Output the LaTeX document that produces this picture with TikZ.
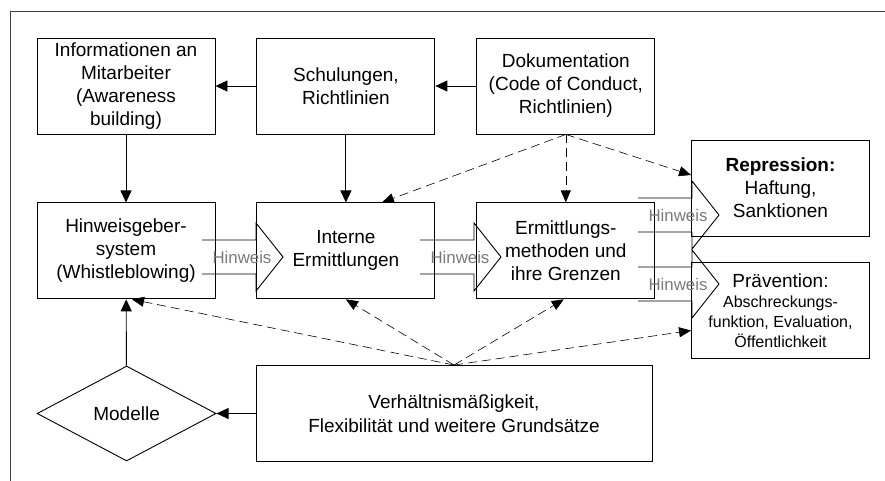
\documentclass[tikz,border=0pt]{standalone}
\usepackage{fontspec}
\setmainfont{Liberation Sans}
\setsansfont{Liberation Sans}
\tikzset{every picture/.style={/utils/exec={\sffamily}}}
\usetikzlibrary{positioning}
\usetikzlibrary{shapes.geometric}
\usetikzlibrary{arrows.meta}
\newcommand{\klein}{\fontsize{16}{20}\selectfont}
\tikzset{node distance=68pt and 41pt, % gaps between the boxes of the grid
  box/.style={draw, line width=0.9pt, align=center, inner sep=2pt,
    minimum width=178pt, minimum height=96pt,
    font=\fontsize{19}{23}\selectfont},
  hint/.style={text=black!52, inner sep=0pt,
    font=\fontsize{16.8}{18}\selectfont},
  hintarrow/.style={draw, line width=0.9pt},
  every edge/.style={  % solid connectors
    draw, -{Triangle[length=12pt,width=11pt]},
    line width=0.9pt},
  soft/.style={        % dashed connectors
    dash pattern=on 9pt off 5pt, line width=0.6pt,
    -{Triangle[length=12pt,width=10pt]}}}
\begin{document}
\begin{tikzpicture}[x=1pt, y=-1pt]
  \useasboundingbox (0,0) rectangle (885,481);
  \draw[line width=0.9pt, black!75] (885,11) -- (10,11) -- (10,481);

  \node [box] (info) at (126,86) {Informationen an\\Mitarbeiter\\(Awareness\\building)};
  \node [box, right=of info] (schulung) {Schulungen,\\Richtlinien};
  \node [box, right=of schulung] (doku) {Dokumentation\\(Code of Conduct,\\Richtlinien)};

  \node [box, below=of info] (hinweisgeber) {Hinweisgeber-\\system\\(Whistleblowing)};
  \node [box, below=of schulung] (interne) {Interne\\Ermittlungen};
  \node [box, below=of doku] (methoden) {Ermittlungs-\\methoden und\\ihre Grenzen};

  \node [box] (repression) at (780.5,188) {\textbf{Repression:}\\Haftung,\\Sanktionen};
  \node [box] (praevention) at (780.5,310.5) {Prävention:\\[-3pt]
    \klein Abschreckungs-\\[-3pt]\klein funktion, Evaluation,\\[-3pt]\klein Öffentlichkeit};

  \node [box, minimum width=396pt] (grundsaetze) at (454,413.5)
    {Verhältnismäßigkeit,\\[1pt]Flexibilität und weitere Grundsätze};
  \node [draw, diamond, line width=0.9pt, inner sep=0pt,
    minimum width=179pt, minimum height=95pt,
    font=\fontsize{19}{23}\selectfont, left=39pt of grundsaetze] (modelle) {Modelle};

  % Hinweis arrows
  \coordinate (tipDE) at (283,257);
  \coordinate (tipEF) at (501,257);
  \coordinate (tipFG) at (719,215);
  \coordinate (tipFH) at (719,284);
  \foreach \tip in {tipDE, tipEF, tipFG, tipFH} {
    \draw [hintarrow] (\tip) ++(-81,-17) -- ++(54,0) -- ++(0,-17)
      -- ++(27,34) -- ++(-27,34) -- ++(0,-17) -- ++(-54,0);
    \node [hint] (hinweis-\tip) at ([xshift=-41pt]\tip) {Hinweis};
  }

  \draw (schulung) edge (info);
  \draw (doku) edge (schulung);
  \draw (info) edge (hinweisgeber);
  \draw (schulung) edge (interne);
  \draw (modelle) edge (hinweisgeber);
  \draw (grundsaetze) edge (modelle);

  \draw (doku.south) edge [soft] ([xshift=36pt]interne.north);
  \draw (doku.south) edge [soft] (methoden.north);
  \draw (doku.south) edge [soft] ([yshift=13pt]repression.west);

  \draw (grundsaetze.north) edge [soft] ([xshift=6pt]hinweisgeber.south);
  \draw (grundsaetze.north) edge [soft] (interne.south);
  \draw (grundsaetze.north) edge [soft] ([xshift=-2pt]methoden.south);
  \draw (grundsaetze.north) edge [soft] ([yshift=-20pt]praevention.west);
\end{tikzpicture}
\end{document}
